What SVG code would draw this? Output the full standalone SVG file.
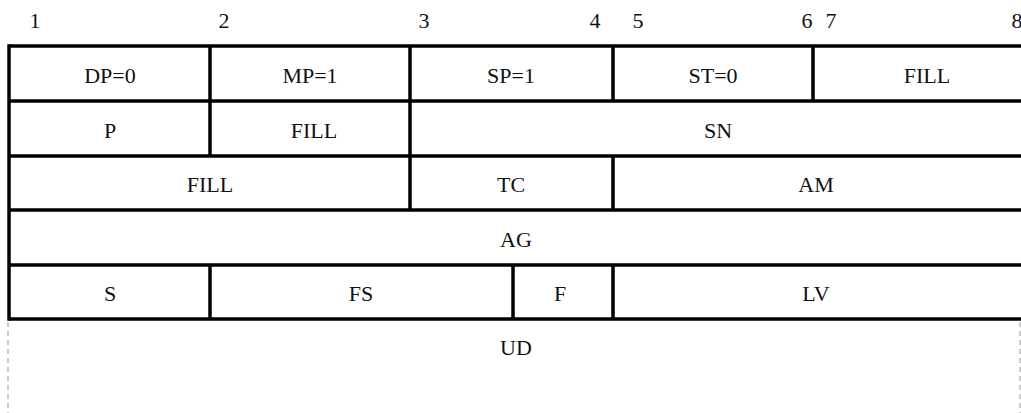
<svg xmlns="http://www.w3.org/2000/svg" width="1021" height="413" viewBox="0 0 1021 413" font-family="Liberation Serif, Times New Roman, serif">
  <style>
    .lbl { font-family: "Liberation Serif", "Times New Roman", Times, serif; font-size: 22px; fill: #111; text-anchor: middle; }
    .rule { stroke: #000; stroke-width: 3.5; fill: none; }
    .cont { stroke: #999; stroke-width: 1; stroke-dasharray: 5 4; fill: none; }
  </style>
  <rect width="1021" height="413" fill="#fff"/>

  <!-- bit numbering above the frame -->
  <g id="bit-scale" font-family="Liberation Serif">
    <text class="lbl" x="35" y="28">1</text>
    <text class="lbl" x="224" y="28">2</text>
    <text class="lbl" x="424" y="28">3</text>
    <text class="lbl" x="595" y="28">4</text>
    <text class="lbl" x="638" y="28">5</text>
    <text class="lbl" x="807" y="28">6</text>
    <text class="lbl" x="831" y="28">7</text>
    <text class="lbl" x="1017" y="28">8</text>
  </g>

  <!-- field grid -->
  <g id="connectors">
    <!-- row separators -->
    <line class="rule" x1="9" y1="46" x2="1021" y2="46"/>
    <line class="rule" x1="9" y1="101" x2="1021" y2="101"/>
    <line class="rule" x1="9" y1="156" x2="1021" y2="156"/>
    <line class="rule" x1="9" y1="210" x2="1021" y2="210"/>
    <line class="rule" x1="9" y1="265" x2="1021" y2="265"/>
    <line class="rule" x1="9" y1="319" x2="1021" y2="319"/>
    <!-- left edge -->
    <line class="rule" x1="9" y1="44.25" x2="9" y2="320.75"/>
    <!-- row 1 dividers -->
    <line class="rule" x1="210" y1="46" x2="210" y2="101"/>
    <line class="rule" x1="410" y1="46" x2="410" y2="101"/>
    <line class="rule" x1="613" y1="46" x2="613" y2="101"/>
    <line class="rule" x1="813" y1="46" x2="813" y2="101"/>
    <!-- row 2 dividers -->
    <line class="rule" x1="210" y1="101" x2="210" y2="156"/>
    <line class="rule" x1="410" y1="101" x2="410" y2="156"/>
    <!-- row 3 dividers -->
    <line class="rule" x1="410" y1="156" x2="410" y2="210"/>
    <line class="rule" x1="613" y1="156" x2="613" y2="210"/>
    <!-- row 5 dividers -->
    <line class="rule" x1="210" y1="265" x2="210" y2="319"/>
    <line class="rule" x1="513" y1="265" x2="513" y2="319"/>
    <line class="rule" x1="613" y1="265" x2="613" y2="319"/>
    <!-- open-ended user data area -->
    <line class="cont" x1="8" y1="322" x2="8" y2="413"/>
    <line class="cont" x1="1020" y1="322" x2="1020" y2="413"/>
  </g>

  <!-- row 1 -->
  <g id="f-dp"><text class="lbl" x="110" y="83">DP=0</text></g>
  <g id="f-mp"><text class="lbl" x="310" y="83">MP=1</text></g>
  <g id="f-sp"><text class="lbl" x="511" y="83">SP=1</text></g>
  <g id="f-st"><text class="lbl" x="713" y="83">ST=0</text></g>
  <g id="f-fill1"><text class="lbl" x="927" y="83">FILL</text></g>
  <!-- row 2 -->
  <g id="f-p"><text class="lbl" x="110" y="138">P</text></g>
  <g id="f-fill2"><text class="lbl" x="314" y="138">FILL</text></g>
  <g id="f-sn"><text class="lbl" x="718" y="138">SN</text></g>
  <!-- row 3 -->
  <g id="f-fill3"><text class="lbl" x="210" y="192">FILL</text></g>
  <g id="f-tc"><text class="lbl" x="511" y="192">TC</text></g>
  <g id="f-am"><text class="lbl" x="816" y="192">AM</text></g>
  <!-- row 4 -->
  <g id="f-ag"><text class="lbl" x="516" y="247">AG</text></g>
  <!-- row 5 -->
  <g id="f-s"><text class="lbl" x="110" y="301">S</text></g>
  <g id="f-fs"><text class="lbl" x="361" y="301">FS</text></g>
  <g id="f-f"><text class="lbl" x="560" y="301">F</text></g>
  <g id="f-lv"><text class="lbl" x="816" y="301">LV</text></g>
  <!-- user data -->
  <g id="f-ud"><text class="lbl" x="516" y="355">UD</text></g>
</svg>
